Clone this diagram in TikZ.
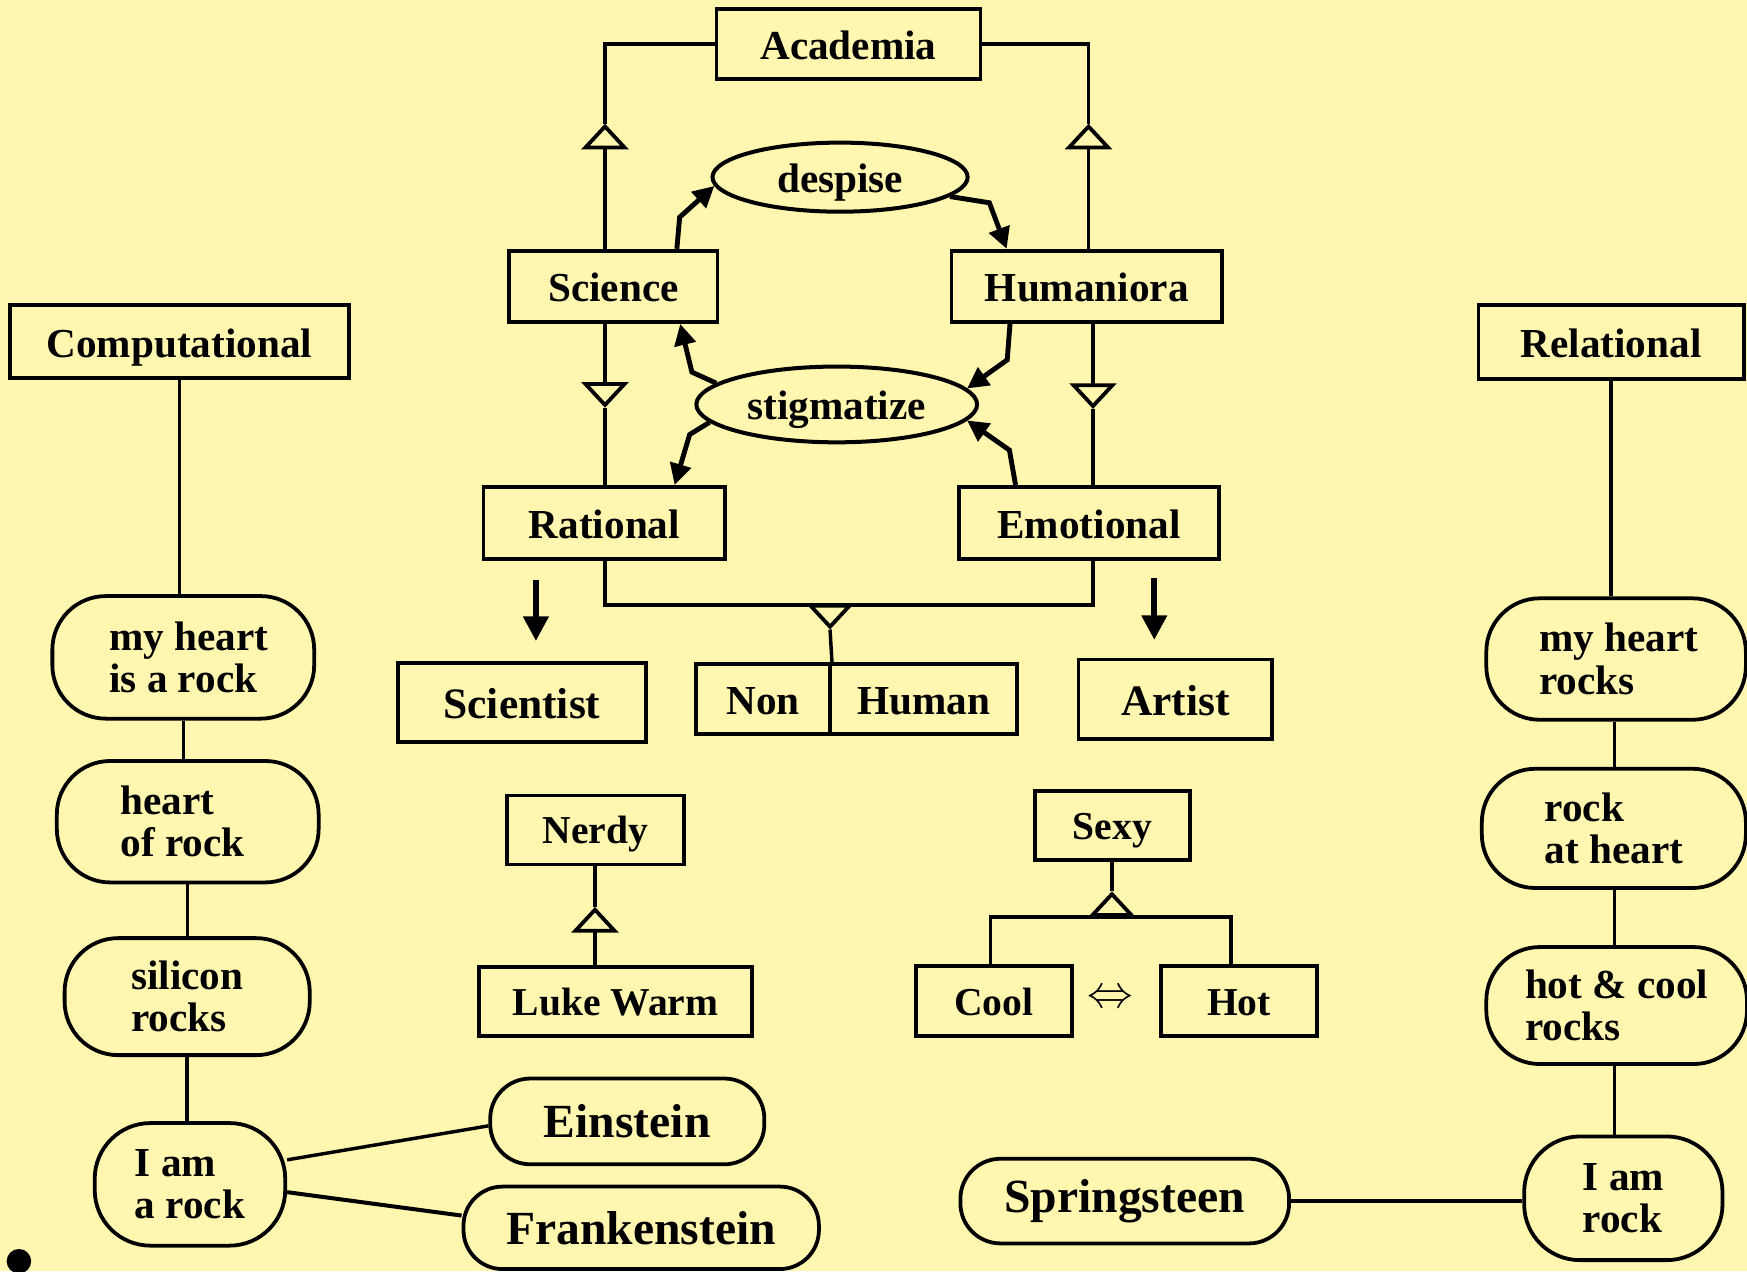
\documentclass[tikz,border=0pt]{standalone}
\usepackage{fontspec}
\usepackage{graphicx}
\setmainfont{Liberation Serif}
\usetikzlibrary{shapes.geometric,arrows.meta}
\definecolor{paper}{RGB}{255,247,176}
\begin{document}
\begin{tikzpicture}[x=1pt,y=-1pt,
  txt/.style={font=\fontsize{37}{38}\selectfont\bfseries},
  smalltxt/.style={font=\fontsize{35.5}{36}\selectfont\bfseries},
  midtxt/.style={font=\fontsize{39}{40}\selectfont\bfseries},
  bigtxt/.style={font=\fontsize{42.7}{44}\selectfont\bfseries},
  box/.style={draw, line width=3.4pt, rectangle, inner sep=0pt, text height=28pt, text depth=0pt, txt},
  pill/.style={draw, line width=3.4pt, rectangle, rounded corners=#1, inner sep=0pt, align=left, txt},
  oval/.style={draw, ellipse, line width=3.6pt, inner sep=0pt, text height=27pt, text depth=0pt, txt},
  conn/.style={line width=3.1pt},
  gen/.style={line width=3.4pt, -{Triangle[open,length=23pt,width=42pt]}},
  rel/.style={line width=4.4pt, line join=miter, -{Triangle[length=19pt,width=19pt]}},
  bigarrow/.style={line width=5pt, -{Triangle[length=22pt,width=22pt]}}
]
\fill[paper] (0,0) rectangle (1568,1141);
\useasboundingbox (0,0) rectangle (1568,1141);

% --- academic hierarchy
\node[box, minimum width=237pt, minimum height=63pt] (acad) at (761.5,39.5) {Academia};
\node[box, minimum width=187pt, minimum height=64pt] (sci) at (550.5,257) {Science};
\node[box, minimum width=243pt, minimum height=64pt] (hum) at (975.5,257) {Humaniora};
\node[oval, minimum width=229pt, minimum height=62pt] (desp) at (754,159) {despise};
\node[oval, minimum width=252pt, minimum height=68pt] (stig) at (751,363) {stigmatize};
\node[box, minimum width=217pt, minimum height=65pt] (rat) at (542.5,469.5) {Rational};
\node[box, minimum width=233pt, minimum height=65pt] (emo) at (977.5,469.5) {Emotional};
\node[box, midtxt, text height=29pt, minimum width=223pt, minimum height=71pt] (scientist) at (468.5,630.5) {Scientist};
\node[box, minimum width=120pt, minimum height=63pt] (non) at (685,627.5) {Non};
\node[box, minimum width=168pt, minimum height=63pt] (human) at (829,627.5) {Human};
\node[box, midtxt, text height=29pt, minimum width=174pt, minimum height=71pt] (artist) at (1055,627.5) {Artist};

% --- nerdy and sexy
\node[box, smalltxt, text height=25pt, minimum width=159pt, minimum height=62pt] (nerdy) at (534.5,745) {Nerdy};
\node[box, smalltxt, text height=25pt, minimum width=245pt, minimum height=62pt] (luke) at (552.5,899) {Luke Warm};
\node[box, smalltxt, text height=25pt, minimum width=139pt, minimum height=62pt] (sexy) at (998.5,741) {Sexy};
\node[box, smalltxt, text height=25pt, minimum width=140pt, minimum height=63pt] (cool) at (892,898.5) {Cool};
\node[box, smalltxt, text height=25pt, minimum width=140pt, minimum height=63pt] (hot) at (1112,898.5) {Hot};
\node[font=\fontsize{32}{32}\selectfont] (equiv) at (997,897) {\scalebox{1.65}{$\Leftrightarrow$}};

% --- computational column
\node[box, minimum width=304pt, minimum height=65pt] (comp) at (161,306.5) {Computational};
\node[pill=48pt, minimum width=235pt, minimum height=110pt] (rL1) at (164.5,590) {\hspace*{10pt}my heart\\\hspace*{10pt}is a rock};
\node[pill=48pt, minimum width=235pt, minimum height=109pt] (rL2) at (168.5,737.5) {heart\\of rock\hspace*{9pt}};
\node[pill=48pt, minimum width=220pt, minimum height=105pt] (rL3) at (168,894.5) {silicon\\rocks};
\node[pill=50pt, minimum width=171pt, minimum height=110pt] (rL4) at (170.5,1063) {I am\\a rock};
\node[pill=36pt, bigtxt, minimum width=246pt, minimum height=77pt] (ein) at (563,1006.5) {Einstein};
\node[pill=35pt, bigtxt, minimum width=319pt, minimum height=74pt] (frank) at (575.5,1102) {Frankenstein};

% --- relational column
\node[box, minimum width=238pt, minimum height=66pt] (relat) at (1446,307) {Relational};
\node[pill=48pt, minimum width=233pt, minimum height=109pt] (rR1) at (1450.5,591.5) {\hspace*{5pt}my heart\\\hspace*{5pt}rocks};
\node[pill=48pt, minimum width=237pt, minimum height=107pt] (rR2) at (1448.5,743.5) {rock\\at heart};
\node[pill=48pt, minimum width=234pt, minimum height=105pt] (rR3) at (1451,902.5) {hot \& cool\\rocks};
\node[pill=50pt, minimum width=178pt, minimum height=111pt] (rR4) at (1457,1075.5) {I am\\rock};
\node[pill=36pt, bigtxt, minimum width=295pt, minimum height=76pt] (spring) at (1009.5,1078) {Springsteen};

% --- generalisation connectors
\coordinate (tA) at (543,111);
\coordinate (tB) at (977,111);
\coordinate (tC) at (543,366);
\coordinate (tD) at (981,367);
\coordinate (jn) at (745,543);
\coordinate (tE) at (745,565);
\coordinate (tF) at (534,814);
\coordinate (jS) at (998,823);
\coordinate (tG) at (998,800);

\draw[gen] (sci.north -| tA) -- (tA);
\draw[conn] (tA) |- (acad.west);
\draw[gen] (hum.north -| tB) -- (tB);
\draw[conn] (tB) |- (acad.east);
\draw[gen] (sci.south -| tC) -- (tC);
\draw[conn] (tC) -- (rat.north -| tC);
\draw[gen] (hum.south -| tD) -- (tD);
\draw[conn] (tD) -- (emo.north -| tD);
\draw[conn] (rat.south -| tC) |- (jn) -| (emo.south -| tD);
\draw[gen] (jn) -- (tE);
\draw[conn] (tE) -- (non.north east);
\draw[gen] (luke.north -| tF) -- (tF);
\draw[conn] (tF) -- (nerdy.south -| tF);
\draw[conn] (sexy.south -| tG) -- (tG);
\draw[gen] (jS) -- (tG);
\draw[conn] ([xshift=-3pt]cool.north) |- (jS) -| ([xshift=-7pt]hot.north);

% --- despise / stigmatize relations
\draw[rel] ([xshift=57pt]sci.north) -- (610,195) -- (desp.184);
\draw[rel] (desp.350) -- (888,182) -- ([xshift=-72pt]hum.north);
\draw[rel] (stig.170) -- (621,334) -- ([xshift=60pt]sci.south);
\draw[rel] ([xshift=-69pt]hum.south) -- (904,323) -- (stig.7);
\draw[rel] (stig.188) -- (619,390) -- ([xshift=63pt]rat.north);
\draw[rel] ([xshift=-66pt]emo.north) -- (906,404) -- (stig.353);

% --- role arrows
\coordinate (sa) at (481,521);
\coordinate (aa) at (1036,519);
\draw[bigarrow, shorten >=18pt] (sa) -- (sa |- scientist.north);
\draw[bigarrow, shorten >=16pt] (aa) -- (aa |- artist.north);

% --- rock chains
\draw[conn] (comp.south) -- (comp.south |- rL1.north);
\draw[conn] (rL1.south) -- (rL1.south |- rL2.north);
\draw[conn] (rL2.south) -- (rL2.south |- rL3.north);
\draw[conn] (rL3.south) -- (rL3.south |- rL4.north);
\draw[conn] ([yshift=22pt]rL4.east) -- ([yshift=-4pt]ein.west);
\draw[conn, line width=3.6pt] ([yshift=-7pt]rL4.east) -- ([yshift=11pt]frank.west);

\draw[conn] (relat.south) -- (relat.south |- rR1.north);
\draw[conn] ([xshift=-1.5pt]rR1.south) -- ([xshift=-1.5pt]rR1.south |- rR2.north);
\draw[conn] ([xshift=0.5pt]rR2.south) -- ([xshift=0.5pt]rR2.south |- rR3.north);
\draw[conn] ([xshift=-2pt]rR3.south) -- ([xshift=-2pt]rR3.south |- rR4.north);
\draw[conn, line width=4.2pt] (spring.east) -- (spring.east -| rR4.west);

% --- bullet
\fill (17,1132) circle[radius=11];
\end{tikzpicture}
\end{document}
